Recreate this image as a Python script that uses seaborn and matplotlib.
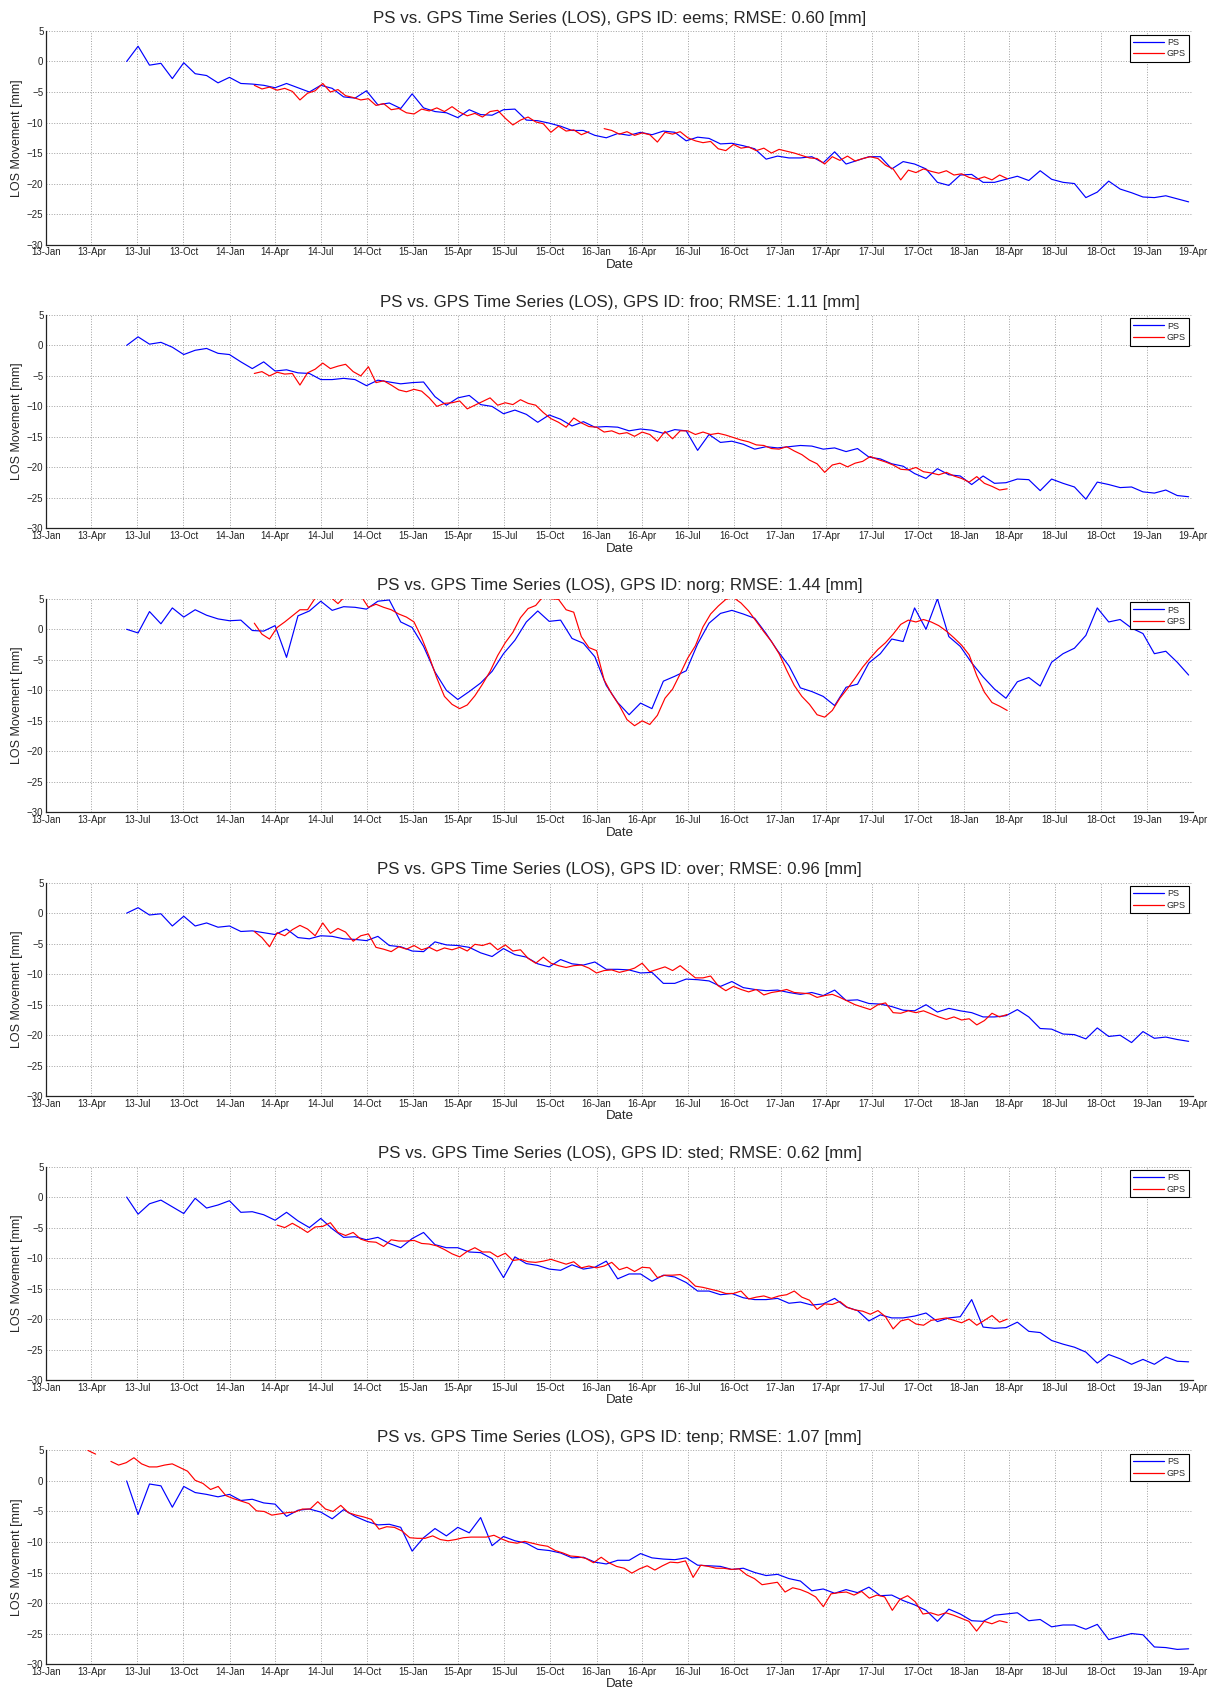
import numpy as np
import pandas as pd
import matplotlib
matplotlib.use("Agg")
import matplotlib.pyplot as plt
import matplotlib.dates as mdates
from matplotlib.lines import Line2D
import seaborn as sns

# ---------------- data ----------------
station_ids = ["eems", "froo", "norg", "over", "sted", "tenp"]
rmse_values = [0.60, 1.11, 1.44, 0.96, 0.62, 1.07]

ps_start, ps_end = "2013-06-10", "2019-03-24"
gps_start, gps_end = "2014-02-19", "2018-03-28"
gps_start_tenp = "2013-03-25"

nan = np.nan

ps_eems = [0.0, 2.5, -0.6, -0.3, -2.8, -0.2, -2.0, -2.3, -3.5, -2.6,
           -3.6, -3.7, -3.9, -4.3, -3.6, -4.3, -5.0, -3.9, -4.4, -5.8,
           -6.0, -4.8, -7.1, -6.8, -7.7, -5.3, -7.6, -8.2, -8.4, -9.2,
           -7.9, -8.7, -8.8, -7.9, -7.8, -9.6, -9.7, -10.1, -10.6, -11.3,
           -11.3, -12.1, -12.5, -11.8, -12.1, -11.6, -12.0, -11.4, -11.6, -13.0,
           -12.4, -12.6, -13.5, -13.4, -13.8, -14.3, -16.0, -15.5, -15.8, -15.8,
           -15.6, -16.6, -14.8, -16.8, -16.2, -15.6, -15.6, -17.6, -16.4, -16.8,
           -17.6, -19.8, -20.3, -18.6, -18.5, -19.8, -19.8, -19.3, -18.8, -19.5,
           -17.9, -19.3, -19.8, -20.0, -22.3, -21.4, -19.6, -20.9, -21.5, -22.2,
           -22.3, -22.0, -22.5, -23.0]
gps_eems = [-3.9, -4.5, -4.2, -4.7, -4.4, -4.9, -6.3, -5.2, -4.8, -3.6,
            -5.0, -4.6, -5.6, -5.9, -6.3, -6.1, -7.2, -6.9, -7.9, -7.7,
            -8.4, -8.6, -7.8, -8.1, -7.6, -8.2, -7.4, -8.3, -8.9, -8.5,
            -9.1, -8.2, -8.0, -9.3, -10.4, -9.6, -9.1, -9.9, -10.2, -11.6,
            -10.6, -11.4, -11.2, -12.0, -11.5, nan, -11.0, -11.3, -11.9, -11.5,
            -12.1, -11.7, -12.0, -13.2, -11.6, -11.9, -11.5, -12.5, -13.0, -13.3,
            -13.1, -14.3, -14.6, -13.6, -14.2, -14.0, -14.6, -14.2, -15.0, -14.4,
            -14.7, -15.0, -15.4, -15.8, -15.9, -16.8, -15.6, -16.2, -15.5, -16.3,
            -15.9, -15.6, -15.9, -17.0, -17.6, -19.4, -17.8, -18.2, -17.6, -18.0,
            -18.3, -17.9, -18.6, -18.4, -19.0, -19.3, -18.9, -19.4, -18.6, -19.2]

ps_froo = [0.0, 1.4, 0.2, 0.5, -0.3, -1.5, -0.8, -0.5, -1.3, -1.5,
           -2.7, -3.8, -2.7, -4.2, -4.0, -4.5, -4.6, -5.6, -5.6, -5.4,
           -5.6, -6.6, -5.7, -6.0, -6.3, -6.1, -6.0, -8.4, -9.8, -8.6,
           -8.2, -9.7, -10.0, -11.2, -10.6, -11.3, -12.6, -11.4, -12.1, -13.2,
           -12.5, -13.4, -13.3, -13.4, -14.0, -13.7, -13.9, -14.4, -13.8, -14.0,
           -17.2, -14.6, -15.9, -15.7, -16.2, -17.0, -16.6, -16.8, -16.6, -16.4,
           -16.5, -17.0, -16.8, -17.4, -16.9, -18.3, -18.6, -19.4, -19.8, -21.0,
           -21.8, -20.2, -21.2, -21.4, -22.8, -21.4, -22.6, -22.5, -21.9, -22.0,
           -23.8, -21.9, -22.6, -23.2, -25.2, -22.4, -22.8, -23.3, -23.2, -24.0,
           -24.2, -23.7, -24.6, -24.8]
gps_froo = [-4.6, -4.3, -5.0, -4.4, -4.7, -4.6, -6.5, -4.5, -3.9, -2.9,
            -3.8, -3.4, -3.1, -4.3, -5.0, -3.5, -6.1, -5.8, -6.5, -7.3,
            -7.6, -7.2, -7.5, -8.6, -10.0, -9.5, -9.4, -9.1, -10.4, -9.8,
            -9.2, -8.6, -9.8, -9.4, -9.7, -8.9, -9.5, -9.8, -11.0, -12.0,
            -12.6, -13.4, -11.9, -12.7, -13.3, -13.4, -14.2, -14.0, -14.5, -14.3,
            -14.9, -14.2, -14.6, -15.7, -14.1, -15.3, -14.0, -14.0, -14.6, -14.2,
            -14.6, -14.4, -14.7, -15.1, -15.5, -15.8, -16.3, -16.4, -16.9, -17.0,
            -16.6, -17.3, -17.9, -18.8, -19.4, -20.8, -19.6, -19.3, -19.9, -19.3,
            -19.0, -18.2, -18.7, -19.1, -19.6, -20.3, -20.4, -20.0, -20.7, -20.9,
            -21.2, -20.8, -21.4, -21.8, -22.4, -21.5, -22.6, -23.1, -23.7, -23.5]

ps_norg = [0.0, -0.6, 2.9, 0.9, 3.5, 2.0, 3.2, 2.3, 1.7, 1.4,
           1.5, -0.2, -0.3, 0.6, -4.6, 2.2, 3.0, 4.6, 3.1, 3.7,
           3.6, 3.3, 4.6, 4.8, 1.2, 0.3, -2.8, -7.0, -10.0, -11.5,
           -10.2, -8.8, -6.9, -4.0, -1.8, 1.2, 3.0, 1.3, 1.5, -1.5,
           -2.3, -4.5, -9.2, -12.0, -14.0, -12.1, -13.0, -8.5, -7.7, -6.8,
           -2.4, 1.0, 2.6, 3.1, 2.5, 1.8, -0.7, -3.5, -6.0, -9.6,
           -10.2, -11.0, -12.5, -9.5, -9.0, -5.5, -4.0, -1.6, -2.0, 3.5,
           0.0, 5.0, -1.2, -2.8, -5.5, -7.8, -9.8, -11.3, -8.6, -7.9,
           -9.3, -5.4, -4.0, -3.1, -1.0, 3.5, 1.2, 1.6, 0.2, -0.7,
           -4.0, -3.6, -5.4, -7.5]
gps_norg = [1.0, -0.8, -1.6, 0.3, 1.2, 2.2, 3.2, 3.2, 5.1, 5.6,
            5.3, 4.2, 5.5, 5.0, 5.5, 3.6, 4.1, 3.6, 3.2, 2.5,
            2.0, 1.2, -1.4, -4.5, -8.0, -11.0, -12.3, -13.0, -12.4, -10.9,
            -9.0, -6.9, -4.3, -2.2, -0.5, 1.9, 3.4, 3.9, 5.4, 5.0,
            4.9, 3.2, 2.8, -1.2, -3.0, -3.5, -8.3, -10.6, -12.5, -14.8,
            -15.8, -15.0, -15.6, -14.1, -11.3, -9.8, -7.3, -4.7, -2.7, 0.4,
            2.5, 3.8, 4.9, 5.2, 4.3, 3.0, 1.3, -0.4, -2.0, -4.0,
            -6.7, -9.2, -11.0, -12.3, -14.0, -14.4, -13.3, -11.3, -9.7, -8.0,
            -6.2, -4.7, -3.3, -2.2, -0.8, 0.8, 1.5, 1.2, 1.6, 1.2,
            0.6, -0.3, -1.4, -2.6, -4.2, -7.6, -10.3, -12.0, -12.6, -13.3]

ps_over = [0.0, 0.9, -0.3, -0.1, -2.1, -0.5, -2.1, -1.6, -2.3, -2.1,
           -3.0, -2.9, -3.2, -3.5, -2.6, -4.0, -4.2, -3.7, -3.8, -4.2,
           -4.3, -4.5, -3.8, -5.3, -5.5, -6.2, -6.3, -4.7, -5.2, -5.3,
           -5.6, -6.5, -7.1, -5.8, -6.8, -7.2, -8.3, -8.8, -7.6, -8.3,
           -8.5, -8.0, -9.2, -9.2, -9.3, -9.8, -9.7, -11.5, -11.5, -10.8,
           -10.9, -11.1, -12.0, -11.2, -12.2, -12.5, -12.7, -12.6, -13.0, -13.3,
           -13.0, -13.5, -12.6, -14.3, -14.2, -14.8, -14.9, -15.3, -15.9, -16.0,
           -15.0, -16.2, -15.6, -16.0, -16.3, -17.0, -17.0, -16.8, -15.8, -17.0,
           -18.9, -19.0, -19.8, -19.9, -20.6, -18.8, -20.2, -20.0, -21.2, -19.4,
           -20.5, -20.3, -20.7, -21.0]
gps_over = [-3.0, -4.0, -5.5, -3.2, -3.7, -2.7, -2.0, -2.6, -3.7, -1.6,
            -3.3, -2.5, -3.1, -4.6, -3.7, -3.4, -5.6, -5.9, -6.3, -5.5,
            -5.9, -5.3, -6.0, -5.6, -6.2, -5.7, -6.0, -5.6, -6.2, -5.1,
            -5.3, -4.9, -6.0, -5.2, -6.2, -6.0, -7.4, -8.2, -7.2, -8.2,
            -8.6, -8.9, -8.6, -8.5, -9.0, -9.8, -9.4, -9.3, -9.7, -9.4,
            -9.0, -8.2, -9.6, -9.2, -8.8, -9.4, -8.6, -9.6, -10.6, -10.6,
            -10.3, -11.9, -12.7, -12.0, -12.5, -12.9, -12.5, -13.4, -13.0, -12.8,
            -12.5, -13.0, -13.1, -13.2, -13.8, -13.5, -13.3, -13.8, -14.4, -15.0,
            -15.4, -15.8, -15.0, -14.7, -16.3, -16.4, -16.0, -16.3, -16.0, -16.5,
            -17.0, -17.4, -17.0, -17.5, -17.3, -18.3, -17.6, -16.4, -17.0, -16.6]

ps_sted = [0.0, -2.8, -1.1, -0.5, -1.6, -2.7, -0.2, -1.8, -1.3, -0.6,
           -2.5, -2.4, -2.9, -3.8, -2.5, -3.9, -5.0, -3.5, -5.2, -6.6,
           -6.5, -7.0, -6.6, -7.6, -8.3, -6.8, -5.8, -7.8, -8.3, -8.3,
           -9.0, -9.1, -10.1, -13.2, -9.8, -10.9, -11.2, -11.8, -12.0, -11.1,
           -11.8, -11.5, -10.5, -13.4, -12.6, -12.6, -13.8, -12.8, -13.1, -14.0,
           -15.4, -15.4, -16.0, -15.8, -16.5, -16.8, -16.8, -16.6, -17.4, -17.2,
           -17.7, -17.5, -16.6, -18.0, -18.6, -20.3, -19.3, -19.8, -19.8, -19.5,
           -19.0, -20.4, -19.8, -19.6, -16.8, -21.3, -21.5, -21.4, -20.5, -22.0,
           -22.2, -23.5, -24.1, -24.6, -25.4, -27.2, -25.8, -26.5, -27.4, -26.6,
           -27.4, -26.2, -26.9, -27.0]
gps_sted = [nan, nan, nan, -4.6, -5.0, -4.3, -5.0, -5.8, -4.9, -4.8,
            -4.2, -5.8, -6.3, -5.8, -6.9, -7.3, -7.4, -8.1, -7.0, -7.2,
            -7.2, -7.1, -7.6, -7.7, -8.0, -8.6, -9.3, -9.8, -8.9, -8.3,
            -9.0, -9.0, -9.8, -9.2, -10.4, -10.2, -10.6, -10.7, -10.5, -10.2,
            -10.6, -11.0, -10.6, -11.6, -11.3, -11.6, -11.3, -10.7, -11.9, -11.5,
            -12.2, -11.5, -11.6, -13.2, -12.8, -12.8, -12.7, -13.4, -14.6, -14.8,
            -15.1, -15.4, -15.8, -15.8, -15.4, -16.7, -16.4, -16.2, -16.6, -16.2,
            -16.0, -15.4, -16.4, -16.9, -18.4, -17.5, -17.6, -17.1, -18.1, -18.5,
            -18.7, -19.2, -18.6, -19.6, -21.6, -20.3, -20.0, -20.8, -21.0, -20.2,
            -20.0, -19.8, -20.2, -20.6, -20.0, -21.0, -20.2, -19.4, -20.5, -20.0]

ps_tenp = [0.0, -5.5, -0.5, -0.8, -4.3, -0.9, -1.9, -2.2, -2.6, -2.2,
           -3.2, -3.0, -3.6, -3.8, -5.8, -4.8, -4.6, -5.1, -6.2, -4.7,
           -5.8, -6.6, -7.2, -7.1, -7.6, -11.5, -9.3, -7.8, -9.0, -7.6,
           -8.5, -6.0, -10.6, -9.1, -9.8, -10.2, -11.2, -11.4, -11.8, -12.6,
           -12.5, -13.3, -13.6, -13.0, -13.0, -11.9, -12.6, -12.8, -12.9, -12.6,
           -13.8, -13.9, -14.0, -14.5, -14.3, -15.0, -15.5, -15.3, -16.0, -16.4,
           -18.0, -17.7, -18.4, -17.8, -18.3, -17.4, -18.8, -18.7, -19.6, -20.3,
           -21.2, -23.0, -21.0, -21.8, -22.9, -23.0, -22.0, -21.8, -21.6, -22.9,
           -22.7, -23.9, -23.6, -23.6, -24.3, -23.5, -26.0, -25.5, -25.0, -25.2,
           -27.2, -27.3, -27.6, -27.5]
gps_tenp = [5.0, 4.4, nan, 3.2, 2.6, 3.0, 3.8, 2.8, 2.3, 2.3,
            2.6, 2.8, 2.2, 1.6, 0.1, -0.4, -1.4, -0.9, -2.4, -2.9,
            -3.3, -3.7, -4.9, -5.0, -5.6, -5.4, -5.2, -5.1, -4.6, -4.6,
            -3.4, -4.6, -5.0, -4.0, -5.2, -5.6, -5.9, -6.3, -7.9, -7.5,
            -7.6, -8.2, -9.3, -9.4, -9.4, -9.0, -9.6, -9.8, -9.6, -9.3,
            -9.2, -9.2, -9.2, -8.9, -9.5, -10.0, -10.2, -9.9, -10.2, -10.5,
            -10.7, -11.4, -11.8, -12.3, -12.4, -12.7, -13.4, -12.5, -13.4, -14.0,
            -14.3, -15.1, -14.4, -13.9, -14.6, -13.9, -13.3, -13.4, -13.1, -15.8,
            -13.8, -14.0, -14.3, -14.3, -14.5, -14.4, -15.4, -16.0, -17.0, -16.8,
            -16.6, -18.2, -17.5, -17.8, -18.3, -19.0, -20.6, -18.5, -18.3, -18.2,
            -18.7, -18.1, -19.2, -18.7, -19.0, -21.2, -19.4, -18.8, -19.8, -21.8,
            -21.6, -22.0, -21.6, -22.0, -22.5, -23.0, -24.6, -23.0, -23.4, -22.9, -23.2]

ps_series = [ps_eems, ps_froo, ps_norg, ps_over, ps_sted, ps_tenp]
gps_series = [gps_eems, gps_froo, gps_norg, gps_over, gps_sted, gps_tenp]
gps_starts = [gps_start] * 5 + [gps_start_tenp]

PS_COLOR = "#0000ff"
GPS_COLOR = "#ff0000"


def make_frame(values, start, end, name):
    d = pd.DataFrame({"date": pd.date_range(start, end, periods=len(values)),
                      "value": np.asarray(values, dtype=float)})
    d["series"] = name
    d["seg"] = d["value"].isna().cumsum()
    return d.dropna()


# ---------------- style ----------------
sns.set_style("white")
plt.rcParams["font.family"] = ["Liberation Sans", "DejaVu Sans"]
plt.rcParams["axes.edgecolor"] = "#222222"
plt.rcParams["axes.linewidth"] = 0.9

fig, axes = plt.subplots(6, 1, figsize=(12.17, 16.93), dpi=100)
fig.subplots_adjust(left=0.038, right=0.980, top=0.9817, bottom=0.0171, hspace=0.329)

for ax, sid, rmse, ps_vals, gps_vals, gstart in zip(
        axes, station_ids, rmse_values, ps_series, gps_series, gps_starts):
    df = pd.concat([make_frame(ps_vals, ps_start, ps_end, "PS"),
                    make_frame(gps_vals, gstart, gps_end, "GPS")], ignore_index=True)
    sns.lineplot(data=df, x="date", y="value", hue="series", units="seg",
                 estimator=None, hue_order=["PS", "GPS"],
                 palette={"PS": PS_COLOR, "GPS": GPS_COLOR},
                 linewidth=0.85, legend=False, ax=ax)

    ax.set_xlim(pd.Timestamp("2013-01-01"), pd.Timestamp("2019-04-01"))
    ax.set_ylim(-30, 5)
    ax.set_yticks(np.arange(-30, 6, 5))
    ax.xaxis.set_major_locator(mdates.MonthLocator(bymonth=[1, 4, 7, 10]))
    ax.xaxis.set_major_formatter(mdates.DateFormatter("%y-%b"))
    ax.tick_params(axis="both", direction="in", length=7, width=0.8,
                   labelsize=7, pad=2, colors="#222222")
    ax.grid(True, linestyle=":", color="#a0a0a0", linewidth=0.7)
    ax.spines["top"].set_visible(False)
    ax.spines["right"].set_visible(False)
    ax.set_xlabel("Date", fontsize=9.5, labelpad=1)
    ax.set_ylabel("LOS Movement [mm]", fontsize=9, labelpad=3)
    ax.set_title(f"PS vs. GPS Time Series (LOS), GPS ID: {sid}; RMSE: {rmse:.2f} [mm]",
                 fontsize=12.2, pad=6)

    handles = [Line2D([], [], color=PS_COLOR, lw=0.9, label="PS"),
               Line2D([], [], color=GPS_COLOR, lw=0.9, label="GPS")]
    leg = ax.legend(handles=handles, loc="upper right", fontsize=6.5, frameon=True,
                    fancybox=False, edgecolor="black", framealpha=1,
                    handlelength=3.4, handletextpad=0.3, borderpad=0.35,
                    labelspacing=0.3, borderaxespad=0.4)
    leg.get_frame().set_linewidth(0.8)

fig.savefig("out.png", dpi=100)
